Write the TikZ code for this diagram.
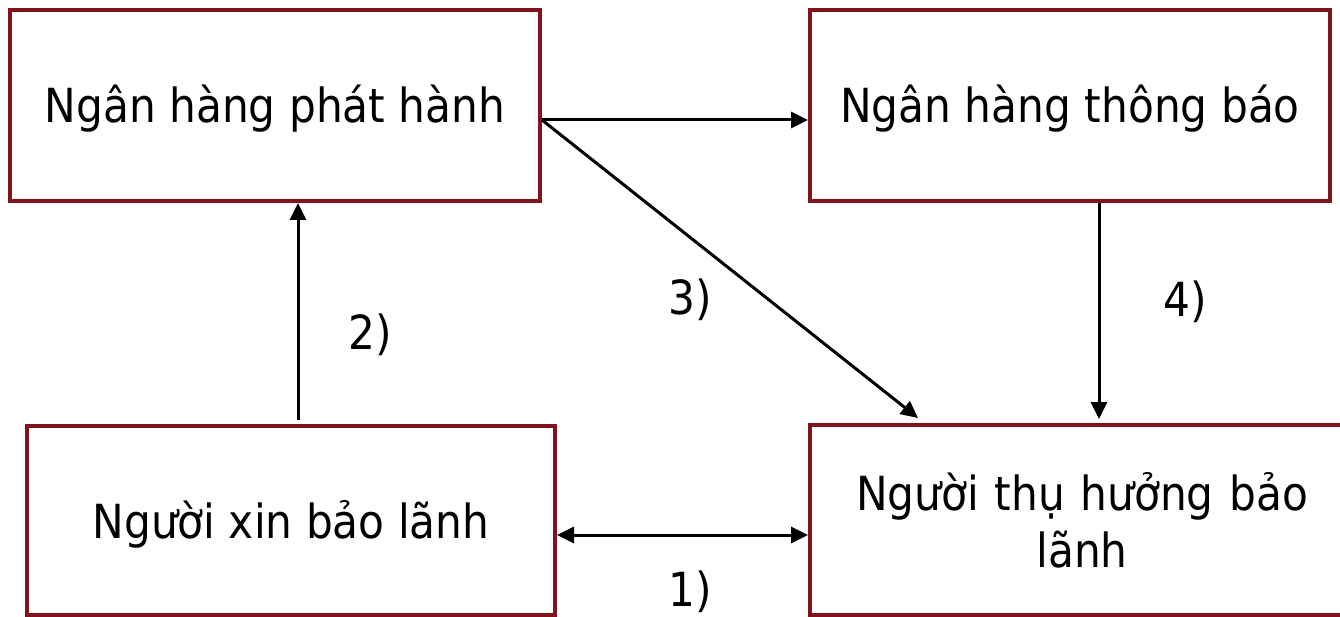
\documentclass[tikz,border=0pt]{standalone}
\usepackage{fontspec}
\setmainfont[FakeStretch=0.9]{DejaVu Sans}
\usetikzlibrary{arrows.meta,calc}
\definecolor{boxred}{RGB}{130,18,28}
\tikzset{
  party/.style={draw=boxred, line width=4pt, inner sep=0pt, align=center,
    font=\fontsize{47}{57}\selectfont},
  flow/.style={draw=black, line width=3pt, -{Triangle[length=17pt,width=16pt]}},
  biflow/.style={draw=black, line width=3pt, {Triangle[length=17pt,width=16pt]}-{Triangle[length=17pt,width=16pt]}},
  steplabel/.style={inner sep=0pt, font=\fontsize{47}{57}\selectfont}
}
\begin{document}
\begin{tikzpicture}[x=1pt,y=-1pt]
\useasboundingbox (0,0) rectangle (1340,617);
\fill[white] (0,0) rectangle (1340,617);

% the four parties of the guarantee
\node[party, minimum width=530pt, minimum height=191pt, text depth=3pt] (issuer) at (275,105.5) {Ngân hàng phát hành};
\node[party, minimum width=520pt, minimum height=191pt, text depth=3pt] (advising) at (1070,105.5) {Ngân hàng thông báo};
\node[party, minimum width=528pt, minimum height=189pt, text depth=2pt] (applicant) at (291,520.5) {Người xin bảo lãnh};
\node[party, minimum width=544pt, minimum height=190pt, text width=500pt] (beneficiary) at (1082,520) {Người thụ hưởng bảo\\lãnh};

% flows between the parties
\coordinate (issuerOut) at ($(issuer.east)+(0,14.5)$);
\draw[flow] (issuerOut) -- (issuerOut -| advising.west);
\draw[flow] (issuerOut) -- ($(beneficiary.north west)+(110,-5)$);
\coordinate (applicantUp) at ($(applicant.north)+(7,-4)$);
\draw[flow] (applicantUp) -- (applicantUp |- issuer.south);
\coordinate (advisingDown) at ($(advising.south)+(29,0)$);
\draw[flow] (advisingDown) -- ($(advisingDown |- beneficiary.north)+(0,-4)$);
\coordinate (applicantRight) at ($(applicant.east)+(0,14.5)$);
\draw[biflow] (applicantRight) -- (applicantRight -| beneficiary.west);

% step numbers
\node[steplabel] (s1) at (690,592) {1)};
\node[steplabel] (s2) at (370,335) {2)};
\node[steplabel] (s3) at (690,300) {3)};
\node[steplabel] (s4) at (1185,302) {4)};
\end{tikzpicture}
\end{document}
